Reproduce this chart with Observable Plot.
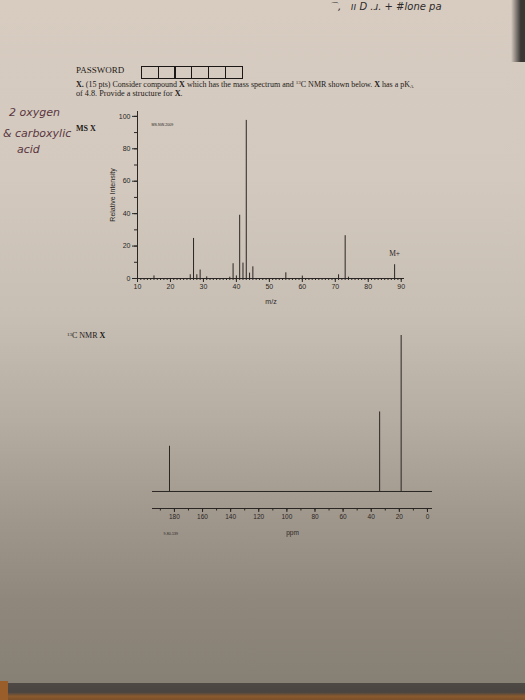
<!DOCTYPE html>
<html><head><meta charset="utf-8">
<script src="https://cdn.jsdelivr.net/npm/d3@7"></script>
<script src="https://cdn.jsdelivr.net/npm/@observablehq/plot@0.6"></script>
<style>
html,body{margin:0;padding:0;}
body{width:525px;height:700px;position:relative;overflow:hidden;
 background:linear-gradient(to bottom,#d8ccc1 0%,#d3c9be 25%,#c8bfb4 45%,#b6ada2 60%,#9f968b 75%,#8f877c 86%,#878075 97%);
 font-family:"Liberation Serif","Times New Roman",serif;}
.t{position:absolute;white-space:nowrap;line-height:1;color:#1d1a18;}
.sm{font-size:5px;position:relative;line-height:0;}
.hw{position:absolute;white-space:nowrap;line-height:1;color:#5a3641;font-family:"DejaVu Sans",sans-serif;font-style:italic;font-weight:300;}
#boxes{position:absolute;left:141px;top:65.5px;display:flex;}
#boxes span{display:block;width:16px;height:11.5px;border:1.3px solid #1a1716;margin-right:-1.3px;}
#ms,#nmr{position:absolute;}
#ms{left:87px;top:80px;}
#nmr{left:102px;top:315px;}
#edge{position:absolute;right:0;top:0;width:14px;height:62px;background:linear-gradient(to right,rgba(60,55,52,0),#3a3634 70%);}
#floor{position:absolute;left:0;right:0;top:683px;height:17px;background:linear-gradient(to bottom,#4e4945 0%,#4a4541 55%,#8a5a2e 78%,#7a4f2a 100%);}
#floorL{position:absolute;left:0;top:681px;width:8px;height:19px;background:#9a5e2a;}
</style></head><body>
<div id="edge"></div>
<div class="hw" style="left:328px;top:2px;font-size:10px;color:#2e2a2a;">⌒,&nbsp;&nbsp; ıı D .ɹ. + #lone pa</div>
<div class="t" style="left:76px;top:66px;font-size:9px;">PASSWORD</div>
<div id="boxes"><span></span><span></span><span></span><span></span><span></span><span></span></div>
<div class="t" style="left:76px;top:80.5px;font-size:8px;"><b>X.</b> (15 pts) Consider compound <b>X</b> which has the mass spectrum and <span class="sm" style="top:-2.5px">13</span>C NMR shown below. <b>X</b> has a pK<span class="sm" style="top:1px">A</span></div>
<div class="t" style="left:76px;top:90px;font-size:8.2px;">of 4.8. Provide a structure for <b>X</b>.</div>
<div class="hw" style="left:9px;top:107px;font-size:11px;">2 oxygen</div>
<div class="hw" style="left:3px;top:128px;font-size:11px;">&amp; carboxylic</div>
<div class="hw" style="left:17px;top:144px;font-size:11px;">acid</div>
<div class="t" style="left:76px;top:125px;font-size:8px;font-weight:bold;">MS X</div>
<div class="t" style="left:67px;top:332px;font-size:8px;"><span class="sm" style="top:-2.5px">13</span>C NMR <b>X</b></div>
<div id="ms"></div>
<div id="nmr"></div>
<div id="floor"></div>
<div id="floorL"></div>
<script>
// Mass spectrum of X (m/z, relative intensity)
const msMz        = [15, 26, 27, 28, 29, 31, 38, 39, 40, 41, 42, 43, 44, 45, 55, 60, 71, 73, 74, 88];
const msIntensity = [1.6, 2.3, 24.7, 2.3, 5.2, 1.0, 0.8, 9.1, 1.6, 39, 9.5, 97.5, 3.3, 7.2, 3.5, 1.5, 2.3, 26.4, 0.8, 8.5];
const msXTicks = [10, 20, 30, 40, 50, 60, 70, 80, 90];
const msYTicks = [0, 20, 40, 60, 80, 100];
const msStamp = "MS-NW-2009";
const msMolecularIonLabel = "M+";
const msMolecularIon = 88;

// 13C NMR of X (ppm, relative peak height)
const nmrPpm    = [183.5, 34.0, 18.7];
const nmrHeight = [29, 51, 100];
const nmrXTicks = [0, 20, 40, 60, 80, 100, 120, 140, 160, 180];
const nmrStamp = "9-80-139";

const ink = "#2a2624";
const ms = msMz.map((mz, i) => ({mz, intensity: msIntensity[i]}));
const nmr = nmrPpm.map((ppm, i) => ({ppm, height: nmrHeight[i]}));

const msPlot = Plot.plot({
  width: 330, height: 242,
  marginLeft: 50, marginRight: 13, marginTop: 31, marginBottom: 44,
  style: {background: "transparent", fontFamily: "'Liberation Sans', Arial, sans-serif", fontSize: "7px", color: ink},
  x: {domain: [10, 91], label: null},
  y: {domain: [0, 103], label: null},
  marks: [
    Plot.ruleY([0], {stroke: ink, strokeWidth: 1}),
    Plot.ruleX([msXTicks[0]], {stroke: ink, strokeWidth: 1}),
    Plot.ruleX(ms, {x: "mz", y1: 0, y2: "intensity", stroke: ink, strokeWidth: 1}),
    Plot.axisX({ticks: msXTicks, tickSize: 4, tickPadding: 2, label: "m/z", labelAnchor: "center", labelOffset: 25, labelArrow: "none", fontSize: 7}),
    Plot.axisX({ticks: d3.range(10, 91), tickSize: 2, tickFormat: () => ""}),
    Plot.axisY({ticks: msYTicks, tickSize: 5, tickPadding: 2, label: "Relative Intensity", labelAnchor: "center", labelOffset: 27, labelArrow: "none"}),
    Plot.axisY({ticks: d3.range(0, 101, 10), tickSize: 3, tickFormat: () => ""}),
    Plot.text(ms.filter(d => d.mz === msMolecularIon), {x: "mz", y: "intensity", text: () => msMolecularIonLabel, dy: -11, fontSize: 7.5, fontFamily: "'Liberation Serif', serif", fill: ink}),
    Plot.text([msStamp], {frameAnchor: "top-left", dx: 14, dy: 12, fontSize: 3.6, fill: ink})
  ]
});
document.getElementById("ms").append(msPlot);

const nmrFloor = -10.9;
const nmrPlot = Plot.plot({
  width: 348, height: 233,
  marginLeft: 50, marginRight: 18, marginTop: 20, marginBottom: 40,
  style: {background: "transparent", fontFamily: "'Liberation Sans', Arial, sans-serif", fontSize: "6.5px", color: ink},
  x: {domain: [195.6, -3.6], label: null},
  y: {domain: [nmrFloor, 100], label: null, axis: null},
  marks: [
    Plot.ruleY([nmrFloor], {stroke: ink, strokeWidth: 1}),
    Plot.ruleY([0], {stroke: ink, strokeWidth: 1}),
    Plot.ruleX(nmr, {x: "ppm", y1: 0, y2: "height", stroke: ink, strokeWidth: 1}),
    Plot.axisX({ticks: nmrXTicks, tickSize: 4, tickPadding: 2, label: "ppm", labelAnchor: "center", labelOffset: 26, labelArrow: "none"}),
    Plot.axisX({ticks: d3.range(0, 191, 10), tickSize: 2.5, tickFormat: () => ""}),
    Plot.text([nmrStamp], {frameAnchor: "bottom-left", dx: 11, dy: 26, fontSize: 3.6, fill: ink})
  ]
});
document.getElementById("nmr").append(nmrPlot);
</script>
</body></html>
